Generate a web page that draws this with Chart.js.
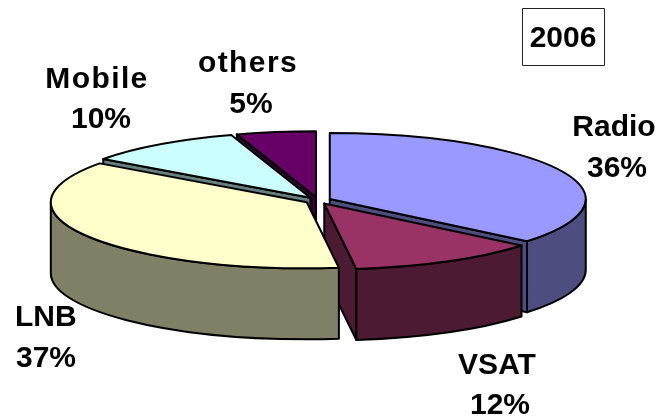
<!DOCTYPE html>
<html lang="en">
<head>
  <meta charset="UTF-8" />
  <title>2006</title>
  <script src="https://cdn.jsdelivr.net/npm/chart.js"></script>
  <style>
    html, body { margin: 0; padding: 0; background: #fff; overflow: hidden; }
    canvas { display: block; }
  </style>
</head>
<body>
<canvas id="pie" width="661" height="416"></canvas>

<script>
  const year = "2006";
  const categories = ["Radio", "VSAT", "LNB", "Mobile", "others"];
  const shares = [36, 12, 37, 10, 5];

  const topColors = ["#9999FF", "#993366", "#FFFFCC", "#CCFFFF", "#660066"];
  const wallColors = ["#4D4D80", "#4D1A33", "#808066", "#668080", "#330033"];

  // back slices first, LNB sits in front of everything
  const drawOrder = [4, 3, 0, 1, 2];

  const squash = 0.258;
  const wallHeight = 71;
  const explode = 13;
  const fontName = '"Liberation Sans", Arial, sans-serif';

  // [x, name baseline, x, percent baseline, align, letter spacing]
  const labelSpots = [
    [614, 136, 617, 177, "center", 0],
    [497, 374, 500, 414, "center", 0],
    [15, 326, 16, 367, "left", 0],
    [97, 88, 101, 128, "center", 1.4],
    [248, 72, 251, 113, "center", 1.4]
  ];

  function faceQuad(ctx, ax, ay, R, a) {
    const px = ax + Math.cos(a) * R;
    const py = ay + Math.sin(a) * R * squash;
    ctx.beginPath();
    ctx.moveTo(ax, ay);
    ctx.lineTo(px, py);
    ctx.lineTo(px, py + wallHeight);
    ctx.lineTo(ax, ay + wallHeight);
    ctx.closePath();
    ctx.fill();
    ctx.stroke();
  }

  const pie3d = {
    id: "pie3d",
    beforeDatasetDraw() {
      return false; // slices are painted below, in depth order
    },
    afterDatasetsDraw(chart) {
      const ctx = chart.ctx;
      const arcs = chart.getDatasetMeta(0).data;

      ctx.lineJoin = "round";
      drawOrder.forEach(i => {
        const el = arcs[i];
        const R = el.outerRadius;
        const mid = (el.startAngle + el.endAngle) / 2;
        const ax = el.x + Math.cos(mid) * explode;
        const ay = el.y + Math.sin(mid) * explode * squash;

        ctx.strokeStyle = "#000";
        ctx.lineWidth = 2;
        ctx.fillStyle = wallColors[i];

        // cut faces that turn toward the viewer
        if (-Math.cos(el.startAngle) > 0.01) faceQuad(ctx, ax, ay, R, el.startAngle);
        if (Math.cos(el.endAngle) > 0.01) faceQuad(ctx, ax, ay, R, el.endAngle);

        // rim, front half of the ellipse only
        const a0 = Math.max(el.startAngle, 0);
        const a1 = Math.min(el.endAngle, Math.PI);
        if (a1 > a0) {
          ctx.beginPath();
          ctx.ellipse(ax, ay, R, R * squash, 0, a0, a1);
          ctx.ellipse(ax, ay + wallHeight, R, R * squash, 0, a1, a0, true);
          ctx.closePath();
          ctx.fill();
          ctx.stroke();
        }

        // top of the slice, the library's own arc squashed flat
        ctx.save();
        ctx.translate(ax, ay);
        ctx.scale(1, squash);
        ctx.translate(-el.x, -el.y);
        el.draw(ctx);
        ctx.restore();

        ctx.save();
        ctx.translate(ax, ay);
        ctx.scale(1, squash);
        ctx.beginPath();
        ctx.moveTo(0, 0);
        ctx.arc(0, 0, R, el.startAngle, el.endAngle);
        ctx.closePath();
        ctx.restore();
        ctx.stroke();
      });

      // labels
      ctx.save();
      ctx.fillStyle = "#000";
      ctx.font = "bold 30px " + fontName;
      categories.forEach((name, i) => {
        const s = labelSpots[i];
        ctx.textAlign = s[4];
        ctx.letterSpacing = s[5] + "px";
        ctx.fillText(name, s[0], s[1]);
        ctx.letterSpacing = "0px";
        ctx.fillText(shares[i] + "%", s[2], s[3]);
      });

      // year box
      ctx.fillStyle = "#fff";
      ctx.strokeStyle = "#222";
      ctx.lineWidth = 1;
      ctx.fillRect(522.5, 8.5, 82, 57);
      ctx.strokeRect(522.5, 8.5, 82, 57);
      ctx.fillStyle = "#000";
      ctx.textAlign = "center";
      ctx.fillText(year, 563, 47);
      ctx.restore();
    }
  };

  new Chart(document.getElementById("pie"), {
    type: "pie",
    data: {
      labels: categories,
      datasets: [{
        data: shares,
        backgroundColor: topColors,
        borderWidth: 0
      }]
    },
    options: {
      responsive: false,
      animation: false,
      radius: 256,
      layout: { padding: { right: 25, bottom: 15 } },
      plugins: {
        legend: { display: false },
        tooltip: { enabled: false }
      }
    },
    plugins: [pie3d]
  });
</script>
</body>
</html>
